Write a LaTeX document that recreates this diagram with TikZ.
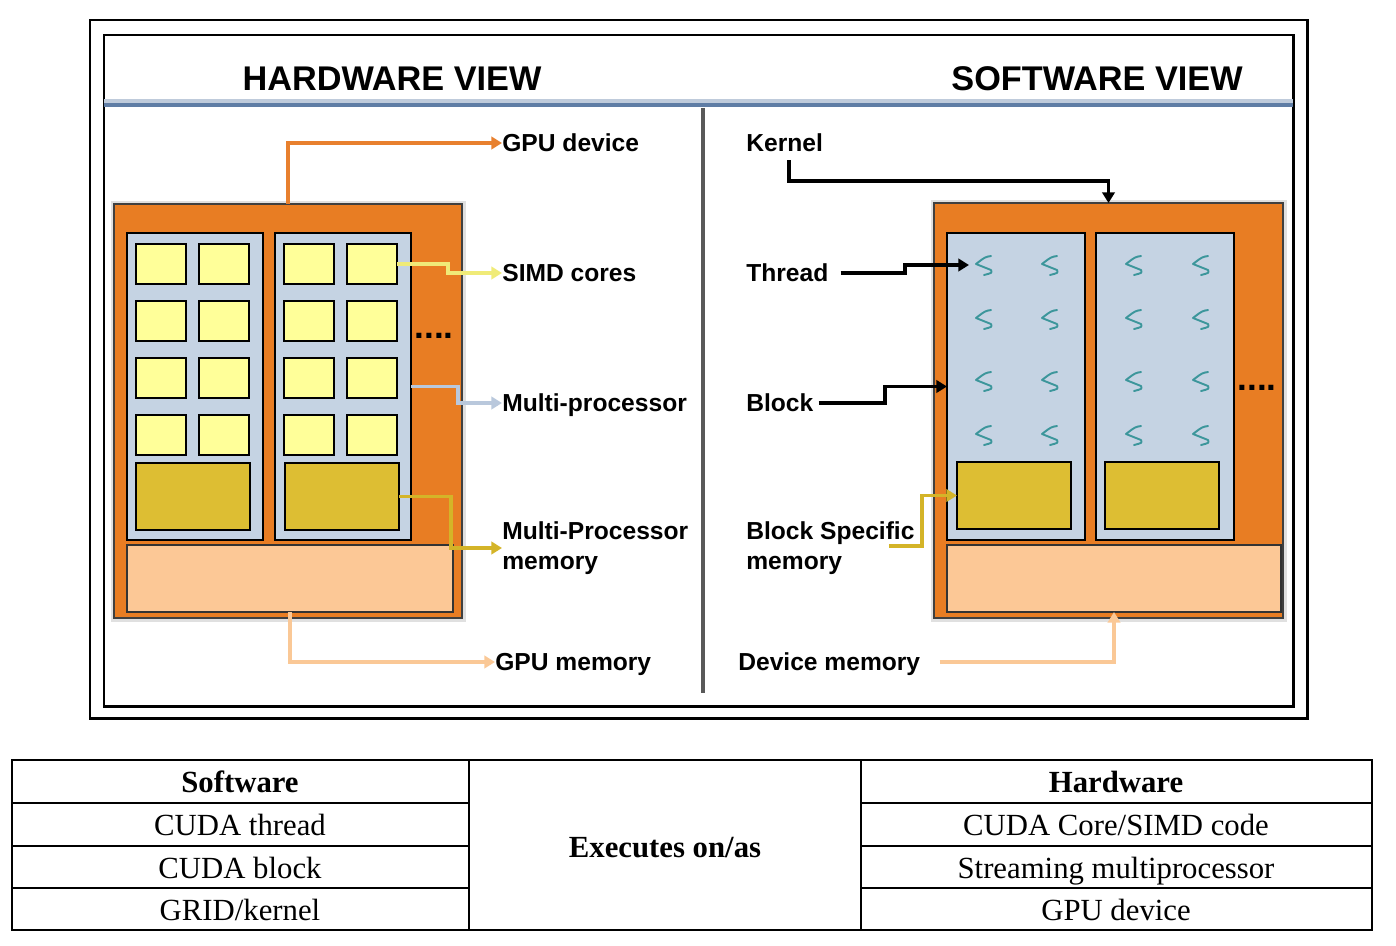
\documentclass[tikz,border=0pt]{standalone}
\usepackage{fontspec}
\setmainfont{Liberation Serif}
\setsansfont{Liberation Sans}
\usetikzlibrary{arrows.meta, positioning, calc}

\definecolor{gpuorange}{RGB}{232,125,35}
\definecolor{mpblue}{RGB}{197,211,227}
\definecolor{coreyellow}{RGB}{255,255,153}
\definecolor{memyellow}{RGB}{221,190,51}
\definecolor{gmempeach}{RGB}{252,200,150}
\definecolor{viewblue}{RGB}{95,125,165}
\definecolor{thrteal}{RGB}{60,150,155}
\definecolor{orangeline}{RGB}{232,128,46}
\definecolor{simdline}{RGB}{240,235,120}
\definecolor{mpline}{RGB}{185,200,220}
\definecolor{memline}{RGB}{212,180,40}
\definecolor{peachline}{RGB}{250,200,150}

\tikzset{
  box/.style 2 args={draw=black, inner sep=0pt, outer sep=0pt, anchor=north west,
    minimum width=#1*0.02cm, minimum height=#2*0.02cm},
  gpu/.style 2 args={box={#1}{#2}, fill=gpuorange, draw=black!75, line width=0.6pt},
  mp/.style={box={136}{307}, fill=mpblue, line width=1.3pt},
  core/.style={box={50}{40}, fill=coreyellow, line width=0.6pt},
  smem/.style={box={114}{67}, fill=memyellow, line width=0.6pt},
  gmem/.style 2 args={box={#1}{#2}, fill=gmempeach, draw=black!80, line width=0.6pt},
  lbltwo/.style={font=\sffamily\bfseries\fontsize{14}{17}\selectfont, anchor=west,
    inner sep=0pt, align=left},
  lbl/.style={lbltwo, text height=10pt, text depth=0pt},
  view/.style={font=\sffamily\bfseries\fontsize{19.5}{22}\selectfont, inner sep=0pt},
  dots/.style={font=\sffamily\bfseries\fontsize{20}{22}\selectfont, inner sep=0pt},
  link/.style={line width=2.2pt, -{Triangle[length=6pt,width=7pt]}},
  thr/.style={draw=thrteal, line width=1.1pt, line join=round, line cap=round},
  cell/.style={font=\fontsize{17.5}{20}\selectfont, inner sep=0pt,
    text height=12.5pt, text depth=4.5pt},
  hcell/.style={cell, font=\bfseries\fontsize{17.5}{20}\selectfont},
}

\begin{document}
\begin{tikzpicture}[x=0.02cm, y=-0.02cm]
  \useasboundingbox (0,0) rectangle (1396,946);

  % frames
  \draw[line width=1.7pt] (90,20) rectangle (1307,718);
  \draw[line width=1.7pt] (104,35) rectangle (1293,706);
  \draw[viewblue!40, line width=4pt] (104,103) -- (1293,103);
  \draw[viewblue, line width=2.3pt] (104,105) -- (1293,105);
  \draw[black!65, line width=2.3pt] (703,108) -- (703,693);

  \node[view] (hwview) at (392,79) {HARDWARE VIEW};
  \node[view] (swview) at (1097,79) {SOFTWARE VIEW};

  % hardware view
  \fill[black!12] (111,201) rectangle (466,622);
  \node[gpu={348}{414}] (hwgpu) at (114,204) {};
  \node[mp] (hwmp1) at (127,233) {};
  \node[mp] (hwmp2) at (275,233) {};
  \foreach \bx [count=\b] in {127,275}
    \foreach \cy [count=\r] in {11,68,125,182} {
      \node[core] (c\b\r1) at (\bx+9,233+\cy) {};
      \node[core] (c\b\r2) at (\bx+72,233+\cy) {};
    }
  \node[smem] (hwsm1) at (136,463) {};
  \node[smem] (hwsm2) at (285,463) {};
  \node[gmem={326}{67}] (hwmem) at (127,545) {};
  \node[dots] (hwdots) at (434,336) {....};

  \node[lbl] (gpudev) at (502,143) {GPU device};
  \node[lbl] (simd) at (502,273) {SIMD cores};
  \node[lbl] (mpl) at (502,403) {Multi-processor};
  \node[lbltwo] (mpm) at (502,548) {Multi-Processor\\memory};
  \node[lbl] (gmemlbl) at (495,662) {GPU memory};

  \draw[link, orangeline] (hwgpu.north) |- (gpudev.west);
  \draw[link, simdline] (c212.east) -- ++(51,0) |- (simd.west);
  \draw[link, mpline] (hwmp2.east) -- ++(47,0) |- (mpl.west);
  \draw[link, memline] (hwsm2.east) -- ++(52,0) |- (mpm.west);
  \draw[link, peachline] (hwmem.south) |- (gmemlbl.west);

  % software view
  \fill[black!12] (931,200) rectangle (1287,622);
  \node[gpu={349}{415}] (swgpu) at (934,203) {};
  \node[mp, minimum width=2.76cm] (swblk1) at (947,233) {};
  \node[mp, minimum width=2.76cm] (swblk2) at (1096,233) {};
  \foreach \x [count=\i] in {983,1049,1133,1200}
    \foreach \y [count=\j] in {265,319,381,435} {
      \coordinate (t-\i-\j) at (\x,\y);
      \draw[thr] (t-\i-\j) ++(8,-9) .. controls ++(-6,1) .. ++(-15,8)
        -- ++(15,6) .. controls ++(1,3) .. ++(-7,5);
    }
  \node[smem] (swmem1) at (957,462) {};
  \node[smem] (swmem2) at (1105,462) {};
  \node[gmem={334}{67}] (swdev) at (947,545) {};
  \node[dots] (swdots) at (1257,388) {....};

  \node[lbl] (kernel) at (746,143) {Kernel};
  \node[lbl] (thread) at (746,273) {Thread};
  \node[lbl] (block) at (746,403) {Block};
  \node[lbltwo] (bsm) at (746,548) {Block Specific\\memory};
  \node[lbl] (devlbl) at (738,662) {Device memory};

  \draw[link] (kernel.south) ++(4,8) -- ++(0,21) -| (swgpu.north);
  \draw[link, shorten <=0.24cm] (thread.east) -- ++(76,0) |- ($(t-1-1)+(-14,0)$);
  \draw[link, shorten <=0.1cm] (block.east) -- ++(71,0) |- (swblk1.west);
  \draw[link, memline] ($(bsm.east)+(-26,-2)$) -- ++(33,0) |- (swmem1.west);
  \draw[link, peachline, shorten <=0.38cm] (devlbl.east) -| (swdev.south);

  % table
  \draw[line width=1.3pt] (12,760) rectangle (1372,930);
  \draw[line width=1.3pt] (469,760) -- (469,930) (861,760) -- (861,930);
  \foreach \y in {803,846,888} {
    \draw[line width=1.3pt] (12,\y) -- (469,\y) (861,\y) -- (1372,\y);
  }
  \node[hcell] (sw) at (240,785) {Software};
  \node[cell] (sw1) at (240,828) {CUDA thread};
  \node[cell] (sw2) at (240,871) {CUDA block};
  \node[cell] (sw3) at (240,913) {GRID/kernel};
  \node[hcell] (exe) at (665,850) {Executes on/as};
  \node[hcell] (hw) at (1116,785) {Hardware};
  \node[cell] (hw1) at (1116,828) {CUDA Core/SIMD code};
  \node[cell] (hw2) at (1116,871) {Streaming multiprocessor};
  \node[cell] (hw3) at (1116,913) {GPU device};
\end{tikzpicture}
\end{document}
